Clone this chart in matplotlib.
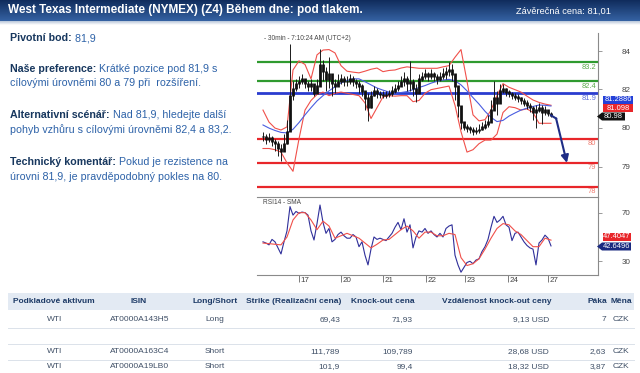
import numpy as np
import matplotlib
matplotlib.use('Agg')
import matplotlib.pyplot as plt
from matplotlib.patches import Rectangle, Polygon

plt.rcParams['font.family'] = ['Liberation Sans', 'DejaVu Sans']

# ---------------- data ----------------
title = "West Texas Intermediate (NYMEX) (Z4) Během dne: pod tlakem."
close_label = "Závěrečná cena: 81,01"

bars = np.arange(2, 99)
close = [80.1, 80.0, 80.05, 79.9, 79.8, 79.6, 79.5, 79.8, 80.3, 81.8,
         82.1, 82.3, 82.4, 82.5, 82.3, 82.2, 82.3, 81.9, 82.2, 83.1,
         82.8, 82.5, 82.7, 82.3, 82.2, 82.4, 82.5, 82.4, 82.4, 82.5,
         82.4, 82.3, 82.2, 82.0, 81.7, 81.3, 81.8, 82.0, 81.9, 81.85,
         81.8, 81.85, 81.9, 82.0, 82.1, 82.2, 82.4, 82.5, 82.3, 82.4,
         82.1, 81.9, 82.5, 82.6, 82.7, 82.6, 82.7, 82.6, 82.5, 82.6,
         82.7, 82.8, 82.9, 82.7, 82.2, 81.4, 80.7, 80.5, 80.45, 80.4,
         80.3, 80.35, 80.4, 80.5, 80.6, 80.7, 81.2, 81.7, 81.5, 82.0,
         82.1, 81.95, 81.9, 81.8, 81.75, 81.7, 81.6, 81.5, 81.4, 81.3,
         81.1, 81.2, 81.3, 81.1, 81.2, 81.05, 80.98]
high = [80.3, 80.2, 80.25, 80.1, 80.0, 79.9, 79.8, 80.2, 80.8, 83.95,
        82.4, 82.5, 82.6, 82.7, 82.5, 82.4, 82.5, 82.2, 82.5, 83.75,
        83.3, 83.0, 83.4, 82.7, 82.5, 82.7, 82.7, 82.6, 82.6, 82.7,
        82.6, 82.5, 82.4, 82.3, 82.0, 81.9, 82.0, 82.2, 82.1, 82.0,
        82.0, 82.0, 82.05, 82.2, 82.3, 82.4, 82.6, 82.8, 82.6, 83.25,
        82.5, 82.3, 82.7, 82.8, 82.9, 82.8, 82.9, 82.8, 82.7, 82.8,
        82.95, 83.0, 83.2, 83.1, 82.5, 81.9, 81.1, 80.7, 80.6, 80.55,
        80.5, 80.5, 80.6, 80.7, 80.8, 81.0, 81.6, 82.4, 82.0, 82.3,
        82.3, 82.1, 82.05, 81.95, 81.9, 81.85, 81.75, 81.7, 81.6, 81.5,
        81.35, 81.4, 81.5, 81.4, 81.35, 81.2, 81.1]
low = [79.9, 79.8, 79.85, 79.7, 79.5, 79.3, 79.1, 79.5, 79.8, 80.5,
       81.6, 82.0, 82.1, 82.3, 82.1, 82.0, 82.0, 81.8, 81.9, 82.3,
       82.4, 82.0, 82.1, 81.8, 81.9, 82.2, 82.3, 82.2, 82.2, 82.3,
       82.2, 82.1, 81.9, 81.8, 81.2, 80.75, 81.3, 81.8, 81.7, 81.7,
       81.7, 81.7, 81.75, 81.8, 81.9, 82.0, 82.2, 82.2, 82.0, 82.0,
       81.8, 81.55, 82.2, 82.4, 82.5, 82.4, 82.5, 82.4, 82.3, 82.4,
       82.5, 82.5, 82.6, 82.4, 81.6, 80.9, 80.4, 80.35, 80.3, 80.25,
       80.15, 80.2, 80.25, 80.35, 80.4, 80.5, 80.8, 81.3, 81.0, 81.6,
       81.9, 81.8, 81.75, 81.65, 81.6, 81.55, 81.45, 81.35, 81.25, 81.1,
       80.8, 80.45, 81.1, 80.6, 81.0, 80.95, 80.9]

band_bars = np.arange(2, 99, 2)
bb_upper = [81.2, 80.7, 80.45, 80.37, 80.5, 82.87, 83.25, 83.1, 82.5, 83.5,
            83.7, 83.72, 83.58, 83.05, 82.82, 82.78, 82.75, 82.82, 82.9, 82.95,
            82.8, 82.85, 82.87, 82.95, 83.0, 82.97, 82.94, 82.94, 82.94, 82.94,
            83.0, 83.05, 83.4, 83.72, 82.4, 81.0, 80.75, 80.8, 81.2, 81.8,
            82.3, 82.15, 82.05, 81.95, 81.78, 81.62, 81.52, 81.45, 81.4]
bb_lower = [79.6, 79.6, 79.55, 79.45, 79.0, 78.65, 80.0, 81.2, 81.6, 81.85,
            81.95, 81.8, 81.9, 81.95, 81.9, 81.85, 81.8, 81.5, 80.85, 81.3,
            81.75, 81.8, 81.78, 81.8, 81.8, 81.55, 81.6, 81.9, 82.05, 82.1,
            82.15, 82.2, 81.4, 80.3, 79.45, 79.55, 79.8, 79.95, 79.95, 80.2,
            81.1, 81.34, 81.3, 81.2, 81.25, 81.1, 80.65, 80.65, 80.65]
ma_line = [80.58, 80.45, 80.35, 80.27, 80.25, 80.4, 80.68, 81.0, 81.3, 81.58,
           81.8, 82.0, 82.17, 82.33, 82.43, 82.5, 82.5, 82.38, 82.25, 82.12,
           82.03, 81.95, 81.9, 81.93, 81.97, 82.05, 82.14, 82.22, 82.32, 82.4,
           82.45, 82.48, 82.42, 82.25, 82.0, 81.72, 81.45, 81.15, 80.9, 80.72,
           80.77, 80.95, 81.08, 81.2, 81.28, 81.35, 81.41, 81.4, 81.37]

rsi = [46, 45, 43.5, 48, 46, 41, 36, 46, 55, 75,
       68, 71, 69.5, 70.5, 70, 68, 55, 47.5, 61, 76.3,
       62, 53, 57, 46, 48, 52, 54, 51, 49, 49,
       52, 50, 42, 46, 35, 27, 40, 50, 48, 49,
       48, 47, 50, 53, 58, 62, 56, 65, 54, 60,
       41, 50, 55, 54, 57, 53, 55, 52, 50, 53,
       50, 57, 59, 60, 35, 27, 21, 25, 29, 30,
       28, 31, 32, 38, 42, 48, 58, 67, 62, 64,
       67, 60, 58, 47, 53, 54, 50, 46, 43, 41,
       40, 27, 45, 47.5, 51.5, 49, 42.65]
rsi_sma = [45, 44.5, 44, 43.5, 50, 64, 70, 70, 64, 56,
           63, 59, 49, 51, 53, 51, 49, 45, 41, 44,
           47.5, 48, 52, 56, 59, 55, 49, 54, 54, 51,
           51, 53, 52, 33, 26.5, 28, 32, 40, 49, 57,
           61, 60, 55, 52, 47, 42, 42, 49, 47.4]

levels = [83.2, 82.4, 81.9, 80.0, 79.0, 78.0]
level_labels = ["83.2", "82.4", "81.9", "80", "79", "78"]
level_kinds = ["res", "res", "pivot", "sup", "sup", "sup"]

projection_bars = [98, 99.7, 103.3]
projection_vals = [80.98, 80.85, 79.0]

price_tick_pos = [83.65, 82.06, 80.46, 78.83]
price_tick_labels = ["84", "82", "80", "79"]
rsi_ticks = [70, 30]
day_pos = [14.1, 27.9, 41.9, 56.4, 69.3, 83.8, 97.1]
day_labels = ["17", "20", "21", "22", "23", "24", "27"]

last_marks = ["81.2886", "81.098", "80.98"]
rsi_marks = ["47.4047", "42.6496"]

text_lines = [
    ("Pivotní bod:", " 81,9"),
    ("Naše preference:", " Krátké pozice pod 81,9 s"),
    ("", "cílovými úrovněmi 80 a 79 při  rozšíření."),
    ("Alternativní scénář:", " Nad 81,9, hledejte další"),
    ("", "pohyb vzhůru s cílovými úrovněmi 82,4 a 83,2."),
    ("Technický komentář:", " Pokud je rezistence na"),
    ("", "úrovni 81,9, je pravděpodobný pokles na 80."),
]

table_header = ["Podkladové aktivum", "ISIN", "Long/Short", "Strike (Realizační cena)",
                "Knock-out cena", "Vzdálenost knock-out ceny", "Páka", "Měna"]
table_rows = [
    ["WTI", "AT0000A143H5", "Long", "69,43", "71,93", "9,13 USD", "7", "CZK"],
    ["", "", "", "", "", "", "", ""],
    ["WTI", "AT0000A163C4", "Short", "111,789", "109,789", "28,68 USD", "2,63", "CZK"],
    ["WTI", "AT0000A19LB0", "Short", "101,9", "99,4", "18,32 USD", "3,87", "CZK"],
]

# ---------------- layout ----------------
W, H = 640, 373
fig = plt.figure(figsize=(6.4, 3.73), dpi=100)
fig.patch.set_facecolor('white')

def fa(x0, y0, x1, y1):
    return [x0 / W, 1 - y1 / H, (x1 - x0) / W, (y1 - y0) / H]

NAVY_TXT = '#17375e'
BLUE_TXT = '#2d62a8'
GREEN = '#2f9a2f'
RED = '#e8262a'
BLUE = '#2a3ccf'
ARROW = '#1f2d86'

# price panel
ax1 = fig.add_axes(fa(257, 33, 598, 197))
ax1.set_facecolor('none')
xmax = (598 - 257) / 3.0
ax1.set_xlim(0, xmax)
ax1.set_ylim(77.58, 84.41)

for lv, kind in zip(levels, level_kinds):
    c = {'res': GREEN, 'pivot': BLUE, 'sup': RED}[kind]
    ax1.axhline(lv, color=c, lw=1.6 if kind != 'pivot' else 2.0, zorder=2)

ax1.plot(band_bars, bb_upper, color='#f0504a', lw=0.8, zorder=3)
ax1.plot(band_bars, bb_lower, color='#f0504a', lw=0.8, zorder=3)
ax1.plot(band_bars, ma_line, color='#4a5de0', lw=0.8, zorder=3)
# candles: wicks + bodies (open taken as the previous close)
ax1.vlines(bars, low, high, color='#1a1a1a', lw=0.7, zorder=4)
opens = [close[0]] + close[:-1]
body_lo = [min(o, c) - 0.03 for o, c in zip(opens, close)]
body_hi = [max(o, c) + 0.03 for o, c in zip(opens, close)]
ax1.vlines(bars, body_lo, body_hi, color='#111111', lw=2.0, zorder=4)

ax1.plot(projection_bars[:2], projection_vals[:2], color=ARROW, lw=1.5, zorder=5)
ax1.annotate('', xy=(projection_bars[2], projection_vals[2]),
             xytext=(projection_bars[1], projection_vals[1]),
             arrowprops=dict(arrowstyle='-|>', color=ARROW, lw=1.5, mutation_scale=11,
                             shrinkA=0, shrinkB=0), zorder=5)

lab_col = {'res': '#5aa84a', 'pivot': '#5b6fd8', 'sup': '#ee7a6e'}
for lv, lab, kind in zip(levels, level_labels, level_kinds):
    ax1.annotate(lab, xy=(xmax, lv), xytext=(-2, -5), textcoords='offset pixels',
                 ha='right', va='center', fontsize=5.4, color=lab_col[kind])

for s in ['left', 'top', 'bottom']:
    ax1.spines[s].set_visible(False)
ax1.spines['right'].set_color('#8a8a8a')
ax1.spines['right'].set_linewidth(0.8)
ax1.set_xticks([])
ax1.yaxis.tick_right()
ax1.set_yticks(price_tick_pos)
ax1.set_yticklabels(price_tick_labels)
ax1.tick_params(axis='y', length=3, width=0.6, color='#8a8a8a', pad=14,
                labelsize=5.8, labelcolor='#444444')
ax1.text(0.02, 0.965, "- 30min - 7:10:24 AM (UTC+2)", transform=ax1.transAxes,
         fontsize=4.7, color='#444444', va='center', ha='left')

# RSI panel
ax2 = fig.add_axes(fa(257, 197, 598, 275))
ax2.set_facecolor('none')
ax2.set_xlim(0, xmax)
ax2.set_ylim(18.7, 82.9)
ax2.plot(bars, rsi, color='#2f2f9a', lw=0.8, zorder=3)
ax2.plot(band_bars, rsi_sma, color='#f0504a', lw=0.8, zorder=4)
ax2.spines['left'].set_visible(False)
for s in ['right', 'top', 'bottom']:
    ax2.spines[s].set_color('#8a8a8a')
    ax2.spines[s].set_linewidth(0.8)
ax2.yaxis.tick_right()
ax2.set_yticks(rsi_ticks)
ax2.tick_params(axis='y', length=3, width=0.6, color='#8a8a8a', pad=14,
                labelsize=5.8, labelcolor='#444444')
ax2.set_xticks(day_pos)
ax2.set_xticklabels([])
ax2.tick_params(axis='x', length=5, width=0.6, color='#666666', direction='out')
for p, lab in zip(day_pos, day_labels):
    ax2.annotate(lab, xy=(p, 0), xycoords=('data', 'axes fraction'), xytext=(1.5, -5),
                 textcoords='offset pixels', ha='left', va='center', fontsize=5.8,
                 color='#444444', annotation_clip=False)
ax2.text(0.018, 0.93, "RSI14 - SMA", transform=ax2.transAxes, fontsize=4.7,
         color='#444444', va='center', ha='left')

# overlay in pixel coordinates (background layer)
ov = fig.add_axes([0, 0, 1, 1])
ov.set_xlim(0, W)
ov.set_ylim(H, 0)
ov.axis('off')
ov.set_facecolor('none')
ov.set_zorder(-1)

# header gradient
grad = np.linspace(0, 1, 64)[:, None]
top_c = np.array([0x10, 0x2c, 0x5c]) / 255
bot_c = np.array([0x35, 0x62, 0xa3]) / 255
img = top_c[None, None, :] * (1 - grad[..., None]) + bot_c[None, None, :] * grad[..., None]
img = np.repeat(img, 2, axis=1)
ov.imshow(img, extent=(0, W, 21, 0), aspect='auto', zorder=1)
grad2 = np.linspace(0, 1, 16)[:, None]
c1 = np.array([0xb8, 0xc6, 0xd9]) / 255
c2 = np.array([1.0, 1.0, 1.0])
img2 = c1[None, None, :] * (1 - grad2[..., None]) + c2[None, None, :] * grad2[..., None]
img2 = np.repeat(img2, 2, axis=1)
ov.imshow(img2, extent=(0, W, 25, 21), aspect='auto', zorder=1)
ov.set_xlim(0, W)
ov.set_ylim(H, 0)
ov.text(8, 10.5, title, color='white', fontsize=8.5, fontweight='bold',
        va='center', ha='left', zorder=3)
ov.text(611, 11, close_label, color='white', fontsize=6.7, va='center', ha='right', zorder=3)

# left commentary
line_y = [38.3, 69.3, 83.3, 115.0, 130.0, 161.7, 176.7]
FS = 7.7
for (b, n), yy in zip(text_lines, line_y):
    if b:
        t = ov.text(10, yy, b, fontsize=FS, fontweight='bold', color=NAVY_TXT,
                    va='center', ha='left', zorder=3)
        ov.annotate(n, xy=(1, 0), xycoords=t, va='bottom', ha='left',
                    fontsize=FS, color=BLUE_TXT, zorder=3)
    else:
        ov.text(10, yy, n, fontsize=FS, color=BLUE_TXT, va='center', ha='left', zorder=3)

# price boxes at right (top layer)
def box(ax, x0, x1, yc, h, color, text, pointer=False):
    if pointer:
        poly = Polygon([[x0, yc], [x0 + 5, yc - h / 2], [x1, yc - h / 2],
                        [x1, yc + h / 2], [x0 + 5, yc + h / 2]], closed=True,
                       facecolor=color, edgecolor='none', zorder=5)
        ax.add_patch(poly)
        tx = (x0 + 5 + x1) / 2
    else:
        ax.add_patch(Rectangle((x0, yc - h / 2), x1 - x0, h, facecolor=color,
                               edgecolor='none', zorder=5))
        tx = (x0 + x1) / 2
    ax.text(tx, yc, text, color='white', fontsize=5.4, ha='center', va='center', zorder=6)

ov2 = fig.add_axes([0, 0, 1, 1])
ov2.set_xlim(0, W)
ov2.set_ylim(H, 0)
ov2.axis('off')
ov2.set_facecolor('none')
box(ov2, 603, 633, 99.5, 8, '#2340d8', last_marks[0])
box(ov2, 603, 633, 108, 8, '#e8262a', last_marks[1])
box(ov2, 597, 625, 116.5, 8, '#111111', last_marks[2], pointer=True)
box(ov2, 603, 631, 236.7, 8, '#e8262a', rsi_marks[0])
box(ov2, 597, 631, 246.5, 8, '#1a2a80', rsi_marks[1], pointer=True)

# table
ov.add_patch(Rectangle((8, 293), 626, 17, facecolor='#e3eaf3', edgecolor='none', zorder=1))
for yy in [328, 343.5, 359.5]:
    ov.plot([8, 634], [yy, yy], color='#dbe2ea', lw=0.7, zorder=2)
col_align = ['center', 'center', 'center', 'right', 'right', 'right', 'right', 'center']
head_x = [54, 139, 215, 294, 383, 497, 597, 621]
val_x = [55, 140, 215, 340, 413, 549, 606, 621]
head_y = 301.5
row_y = [319.5, 335.5, 351.5, 367.0]
TFS = 6.0
for j, h in enumerate(table_header):
    ov.text(head_x[j], head_y, h, fontsize=TFS, fontweight='bold', color='#1d3a66',
            ha='center', va='center', zorder=3)
for r, yy in zip(table_rows, row_y):
    for j, v in enumerate(r):
        ov.text(val_x[j], yy, v, fontsize=TFS, color='#3f4f66', ha=col_align[j],
                va='center', zorder=3)

fig.savefig('out.png', dpi=100)
